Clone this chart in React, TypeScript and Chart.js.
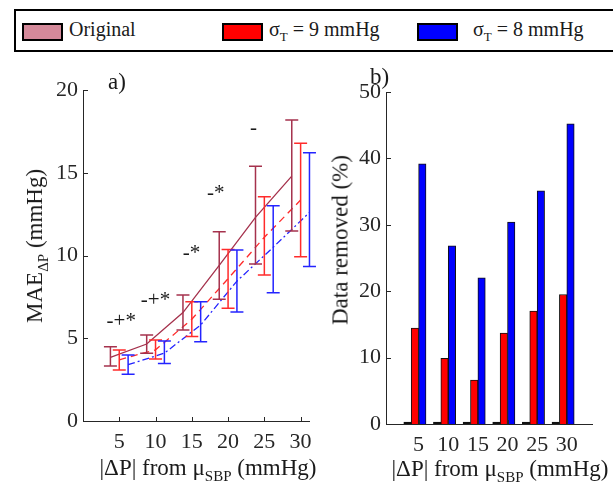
import React, { useEffect, useRef } from 'react';
import { Chart, registerables } from 'chart.js';

Chart.register(...registerables);

// ---------- data ----------
const groups = [5, 10, 15, 20, 25, 30];
const groupLabels = ['5', '10', '15', '20', '25', '30'];

const origMean = [3.85, 4.65, 6.55, 9.4, 12.3, 14.8];
const origUpper = [4.49, 5.2, 7.61, 11.44, 15.4, 18.19];
const origLower = [3.32, 4.09, 5.5, 7.35, 9.49, 11.48];

const s9Mean = [3.7, 4.3, 6.15, 8.6, 11.1, 13.35];
const s9Upper = [4.29, 4.9, 7.21, 10.37, 13.55, 16.78];
const s9Lower = [3.08, 3.74, 5.1, 6.81, 8.82, 9.93];

const s8Mean = [3.4, 4.1, 5.8, 8.45, 10.5, 12.6];
const s8Upper = [3.99, 4.83, 7.21, 10.33, 13.0, 16.21];
const s8Lower = [2.82, 3.48, 4.79, 6.59, 7.75, 9.33];

const maeTicks = [0, 5, 10, 15, 20];

const sigLabels = ['-+*', '-+*', '-*', '-*', '-'];
const sigX = [5.27, 10.0, 14.97, 18.3, 23.5];
const sigY = [6.0, 7.27, 10.15, 13.75, 17.7];

const removedOrig = [0, 0, 0, 0, 0, 0];
const removed9 = [14.45, 9.9, 6.6, 13.7, 17.0, 19.5];
const removed8 = [39.2, 26.85, 22.0, 30.4, 35.1, 45.2];
const removedTicks = [0, 10, 20, 30, 40, 50];

// ---------- styling ----------
const FONT_FAMILY = '"Liberation Serif", "Times New Roman", Times, serif';
const AXIS = '#262626';
const MAROON = '#a5324d';
const RED = '#ff2b2b';
const BLUE = '#2424ff';
const PINK = '#d4899a';
const OFFSET = 1.22;

const errorSets = [
  { upper: origUpper, lower: origLower },
  { upper: s9Upper, lower: s9Lower },
  { upper: s8Upper, lower: s8Lower },
];

const errorBarPlugin = {
  id: 'errbars',
  afterDatasetsDraw(chart: any) {
    const { ctx } = chart;
    const x = chart.scales.x;
    const y = chart.scales.y;
    chart.data.datasets.forEach((ds: any, i: number) => {
      const eb = errorSets[i];
      if (!eb) return;
      ctx.save();
      ctx.strokeStyle = ds.borderColor;
      ctx.lineWidth = 1.5;
      ctx.setLineDash([]);
      ds.data.forEach((pt: any, j: number) => {
        const px = x.getPixelForValue(pt.x);
        const top = y.getPixelForValue(eb.upper[j]);
        const bot = y.getPixelForValue(eb.lower[j]);
        ctx.beginPath();
        ctx.moveTo(px, top);
        ctx.lineTo(px, bot);
        ctx.moveTo(px - 6.5, top);
        ctx.lineTo(px + 6.5, top);
        ctx.moveTo(px - 6.5, bot);
        ctx.lineTo(px + 6.5, bot);
        ctx.stroke();
      });
      ctx.restore();
    });
    // significance markers
    ctx.save();
    ctx.fillStyle = '#1a1a1a';
    ctx.font = `21px ${FONT_FAMILY}`;
    ctx.textAlign = 'center';
    ctx.textBaseline = 'middle';
    sigLabels.forEach((s, i) => {
      ctx.fillText(s, x.getPixelForValue(sigX[i]), y.getPixelForValue(sigY[i]));
    });
    ctx.restore();
  },
};

const inwardTicks = {
  id: 'inwardTicks',
  afterDraw(chart: any) {
    const { ctx, chartArea } = chart;
    const x = chart.scales.x;
    const y = chart.scales.y;
    ctx.save();
    ctx.strokeStyle = AXIS;
    ctx.lineWidth = 1;
    ctx.setLineDash([]);
    x.ticks.forEach((t: any) => {
      const px = Math.round(x.getPixelForValue(t.value)) + 0.5;
      ctx.beginPath();
      ctx.moveTo(px, chartArea.bottom);
      ctx.lineTo(px, chartArea.bottom - 4);
      ctx.stroke();
    });
    y.ticks.forEach((t: any) => {
      const py = Math.round(y.getPixelForValue(t.value)) + 0.5;
      ctx.beginPath();
      ctx.moveTo(chartArea.left, py);
      ctx.lineTo(chartArea.left + 5, py);
      ctx.stroke();
    });
    ctx.restore();
  },
};

const tickFont = { family: FONT_FAMILY, size: 22 };

function PanelA() {
  const ref = useRef<HTMLCanvasElement>(null);
  useEffect(() => {
    const chart = new Chart(ref.current as HTMLCanvasElement, {
      type: 'line',
      data: {
        datasets: [
          {
            label: 'Original',
            data: groups.map((g, i) => ({ x: g - OFFSET, y: origMean[i] })),
            borderColor: MAROON,
            borderWidth: 1.3,
            pointRadius: 0,
            tension: 0,
          },
          {
            label: 'σT = 9 mmHg',
            data: groups.map((g, i) => ({ x: g, y: s9Mean[i] })),
            borderColor: RED,
            borderWidth: 1.3,
            borderDash: [7, 5],
            pointRadius: 0,
            tension: 0,
          },
          {
            label: 'σT = 8 mmHg',
            data: groups.map((g, i) => ({ x: g + OFFSET, y: s8Mean[i] })),
            borderColor: BLUE,
            borderWidth: 1.3,
            borderDash: [7, 3, 2, 3],
            pointRadius: 0,
            tension: 0,
          },
        ],
      },
      options: {
        animation: false,
        responsive: false,
        layout: { padding: { top: 30, right: 10, left: 0, bottom: 0 } },
        plugins: { legend: { display: false }, tooltip: { enabled: false } },
        scales: {
          x: {
            type: 'linear',
            min: 0,
            max: 31.2,
            afterBuildTicks: (s: any) => {
              s.ticks = groups.map((v) => ({ value: v }));
            },
            afterFit: (s: any) => {
              s.height = 64;
            },
            grid: { display: false, drawTicks: false },
            border: { display: true, color: AXIS, width: 1 },
            ticks: { font: tickFont, color: AXIS, padding: 8, maxRotation: 0, autoSkip: false },
          },
          y: {
            type: 'linear',
            min: 0,
            max: 20,
            afterBuildTicks: (s: any) => {
              s.ticks = maeTicks.map((v) => ({ value: v }));
            },
            afterFit: (s: any) => {
              s.width = 83;
            },
            grid: { display: false, drawTicks: false },
            border: { display: true, color: AXIS, width: 1 },
            ticks: { font: tickFont, color: AXIS, padding: 5 },
          },
        },
      },
      plugins: [errorBarPlugin, inwardTicks],
    } as any);
    return () => chart.destroy();
  }, []);
  return <canvas ref={ref} width={320} height={425} style={{ position: 'absolute', left: 0, top: 60 }} />;
}

function PanelB() {
  const ref = useRef<HTMLCanvasElement>(null);
  useEffect(() => {
    const pts = (arr: number[]) => arr.map((v, i) => ({ x: i + 1, y: v }));
    const chart = new Chart(ref.current as HTMLCanvasElement, {
      type: 'bar',
      data: {
        datasets: [
          {
            label: 'Original',
            data: pts(removedOrig),
            backgroundColor: '#111',
            borderColor: '#111',
            borderWidth: 1,
            minBarLength: 2,
          },
          {
            label: 'σT = 9 mmHg',
            data: pts(removed9),
            backgroundColor: '#ff0000',
            borderColor: '#111',
            borderWidth: 1,
          },
          {
            label: 'σT = 8 mmHg',
            data: pts(removed8),
            backgroundColor: '#0000ff',
            borderColor: '#111',
            borderWidth: 1,
          },
          {
            label: '',
            data: pts(removedOrig),
            backgroundColor: 'rgba(0,0,0,0)',
            borderWidth: 0,
          },
        ],
      },
      options: {
        animation: false,
        responsive: false,
        layout: { padding: { top: 32, right: 21, left: 0, bottom: 0 } },
        plugins: { legend: { display: false }, tooltip: { enabled: false } },
        datasets: { bar: { categoryPercentage: 1, barPercentage: 1 } },
        scales: {
          x: {
            type: 'linear',
            offset: false,
            min: -0.1,
            max: 6.85,
            afterBuildTicks: (s: any) => {
              s.ticks = groupLabels.map((_, i) => ({ value: i + 1 }));
            },
            afterFit: (s: any) => {
              s.height = 61;
            },
            grid: { display: false, drawTicks: false, offset: false },
            border: { display: true, color: AXIS, width: 1 },
            ticks: {
              font: tickFont,
              color: AXIS,
              padding: 8,
              maxRotation: 0,
              autoSkip: false,
              callback: (v: any) => groupLabels[Math.round(v) - 1] ?? '',
            },
          },
          y: {
            type: 'linear',
            min: 0,
            max: 50,
            afterBuildTicks: (s: any) => {
              s.ticks = removedTicks.map((v) => ({ value: v }));
            },
            afterFit: (s: any) => {
              s.width = 66;
            },
            grid: { display: false, drawTicks: false },
            border: { display: true, color: AXIS, width: 1 },
            ticks: { font: tickFont, color: AXIS, padding: 5 },
          },
        },
      },
      plugins: [inwardTicks],
    } as any);
    return () => chart.destroy();
  }, []);
  return <canvas ref={ref} width={293} height={425} style={{ position: 'absolute', left: 320, top: 60 }} />;
}

const txt: React.CSSProperties = {
  position: 'absolute',
  fontFamily: FONT_FAMILY,
  fontSize: 20,
  lineHeight: '20px',
  color: '#1a1a1a',
  whiteSpace: 'nowrap',
};
const title: React.CSSProperties = { ...txt, fontSize: 23, lineHeight: '23px' };
const sub: React.CSSProperties = { fontSize: 13, position: 'relative', top: 5 };
const subT: React.CSSProperties = { fontSize: 15, position: 'relative', top: 6 };

function Swatch({ left, color }: { left: number; color: string }) {
  return (
    <div
      style={{
        position: 'absolute',
        left,
        top: 23,
        width: 41,
        height: 18,
        boxSizing: 'border-box',
        border: '2px solid #000',
        background: color,
      }}
    />
  );
}

export default function App() {
  return (
    <div
      style={{
        position: 'absolute',
        left: 0,
        top: 0,
        width: 613,
        height: 485,
        overflow: 'hidden',
        background: '#fff',
      }}
    >
      <PanelA />
      <PanelB />
      {/* legend */}
      <div
        style={{
          position: 'absolute',
          left: 14,
          top: 9,
          width: 640,
          height: 43,
          boxSizing: 'border-box',
          border: '2px solid #000',
        }}
      />
      <Swatch left={22} color={PINK} />
      <div style={{ ...txt, left: 69, top: 19 }}>Original</div>
      <Swatch left={222} color="#ff0000" />
      <div style={{ ...txt, left: 269, top: 19 }}>
        σ<span style={sub}>T</span> = 9 mmHg
      </div>
      <Swatch left={417} color="#0000ff" />
      <div style={{ ...txt, left: 473, top: 19 }}>
        σ<span style={sub}>T</span> = 8 mmHg
      </div>

      {/* panel labels */}
      <div style={{ ...title, left: 108, top: 70 }}>a)</div>
      <div style={{ ...title, left: 370, top: 65 }}>b)</div>

      {/* axis titles */}
      <div
        style={{
          ...title,
          left: 36,
          top: 246,
          transform: 'translate(-50%, -50%) rotate(-90deg)',
        }}
      >
        MAE<span style={subT}>ΔP</span> (mmHg)
      </div>
      <div style={{ ...title, left: 208, top: 469, transform: 'translate(-50%, -50%)' }}>
        |ΔP| from μ<span style={subT}>SBP</span> (mmHg)
      </div>
      <div
        style={{
          ...title,
          left: 340,
          top: 240,
          transform: 'translate(-50%, -50%) rotate(-90deg)',
        }}
      >
        Data removed (%)
      </div>
      <div style={{ ...title, left: 500, top: 470, transform: 'translate(-50%, -50%)' }}>
        |ΔP| from μ<span style={subT}>SBP</span> (mmHg)
      </div>
    </div>
  );
}
